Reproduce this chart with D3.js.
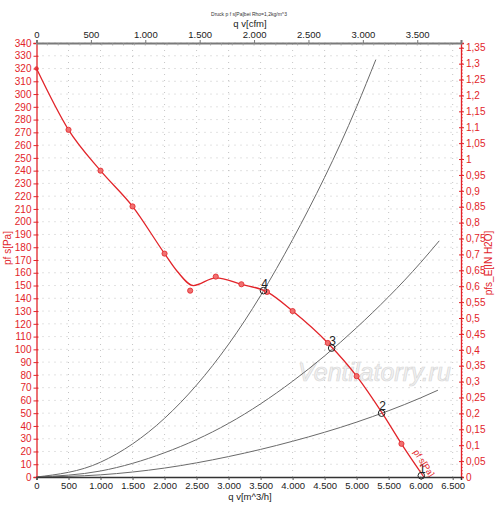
<!DOCTYPE html>
<meta charset="utf-8">
<script src="https://cdn.jsdelivr.net/npm/d3@7"></script>
<style>
	body{margin:0;background:#fff;font-family:"Liberation Sans",Arial,sans-serif;}
	text{font-family:"Liberation Sans",Arial,sans-serif;}
</style>
<div id="chart"></div>
<script>
// fan curve pf_s [Pa] over qv [m^3/h]
var curveQ = [0,500,1000,1500,2000,2200,2450,2800,3200,3600,4000,4550,5000,5400,5700,6050]
var curveP = [320,272,240,212,175,161,150,156,151,145,130,105,79,50,26,0]
// measured points
var dotQ = [0,500,1000,1500,2000,2400,2800,3200,3600,4000,4550,5000,5700]
var dotP = [320,272,240,212,175,146,157,151,145,130,105,79,26]
// system curves
var sysQ4 = [0,1000,2000,3000,4000,5000,5300]
var sysP4 = [0,11.6,46,104,186,290,327]
var sysQ3 = [0,1000,2000,3000,4000,5000,6000,6290]
var sysP3 = [0,4.7,19,42,75,117,168,185]
var sysQ2 = [0,1000,2000,3000,4000,5000,6000,6270]
var sysP2 = [0,1.7,7,16,28,43,62,68]
// operating points
var opLabels = ["1","2","3","4"]
var opQ = [6010,5390,4610,3545]
var opP = [1,50,101,146]
// ticks
var qTicks = d3.range(0,6501,500)
var cfmTicks = d3.range(0,3501,500)
var paTicks = d3.range(0,341,10)
var inTicks = d3.range(0,1.36,0.05)

var red = "#e2242a"
var W = 500, H = 510
var svg = d3.select("#chart").append("svg").attr("width",W).attr("height",H)

var x = d3.scaleLinear().domain([0,6630]).range([36.5,461])
var xc = d3.scaleLinear().domain([0,6630/1.69901]).range([36.5,461])
var y = d3.scaleLinear().domain([0,340]).range([477,43])
var yr = d3.scaleLinear().domain([0,340/249.089]).range([477,43])

var loc = d3.formatLocale({decimal:",",thousands:".",grouping:[3],currency:["",""]})
var fInt = loc.format(",")
var fDec = function(v){ return loc.format(".2~f")(v) }

// grid
svg.append("g").selectAll("line").data(paTicks.slice(1)).enter().append("line")
	.attr("x1",x(0)).attr("x2",x.range()[1]).attr("y1",function(d){return y(d)}).attr("y2",function(d){return y(d)})
	.attr("stroke","#b8b8b8").attr("stroke-width",0.8).attr("stroke-dasharray","1,5")
svg.append("g").selectAll("line").data(qTicks.slice(1)).enter().append("line")
	.attr("x1",function(d){return x(d)}).attr("x2",function(d){return x(d)}).attr("y1",y(0)).attr("y2",y(340))
	.attr("stroke","#b8b8b8").attr("stroke-width",0.8).attr("stroke-dasharray","1,5")

// watermark
svg.append("text").attr("x",298).attr("y",381).text("Ventilatorry.ru")
	.attr("font-size",25).attr("font-style","italic").attr("fill","#f2f2f2")
	.attr("stroke","#d8d8d8").attr("stroke-width",0.7)

// system curves
var line = d3.line().curve(d3.curveMonotoneX).x(function(d){return x(d[0])}).y(function(d){return y(d[1])})
;[[sysQ4,sysP4],[sysQ3,sysP3],[sysQ2,sysP2]].forEach(function(s){
	svg.append("path").datum(d3.zip(s[0],s[1]))
		.attr("fill","none").attr("stroke","#6a6a6a").attr("stroke-width",1).attr("d",line)
})

// fan curve
svg.append("path").datum(d3.zip(curveQ,curveP))
	.attr("fill","none").attr("stroke",red).attr("stroke-width",1.3).attr("d",line)
svg.append("g").selectAll("circle").data(d3.zip(dotQ,dotP)).enter().append("circle")
	.attr("cx",function(d){return x(d[0])}).attr("cy",function(d){return y(d[1])})
	.attr("r",function(d){return d[0]==0 ? 1.8 : 2.6})
	.attr("fill","#f07070").attr("stroke",red).attr("stroke-width",0.8)

// operating points
var ops = svg.append("g").selectAll("g").data(d3.range(opQ.length)).enter().append("g")
ops.append("circle").attr("cx",function(i){return x(opQ[i])}).attr("cy",function(i){return y(opP[i])}).attr("r",3.3)
	.attr("fill","none").attr("stroke","#222").attr("stroke-width",1)
ops.append("text").attr("x",function(i){return x(opQ[i])+1}).attr("y",function(i){return y(opP[i])-3})
	.attr("text-anchor","middle").attr("font-size",12).attr("fill","#222").text(function(i){return opLabels[i]})

// curve label
svg.append("text").attr("transform","translate(413,452) rotate(57)")
	.attr("font-size",9).attr("fill",red).text("pf s[Pa]")

// left axis
var gl = svg.append("g").attr("transform","translate("+x(0)+",0)")
	.call(d3.axisLeft(y).tickValues(paTicks).tickSize(3).tickPadding(2))
gl.selectAll("line").attr("x1",2).attr("stroke",red)
gl.select(".domain").attr("stroke",red).attr("stroke-width",1.3)
gl.selectAll("text").attr("fill",red).attr("font-size",10)

// right axis
var gr = svg.append("g").attr("transform","translate("+x.range()[1]+",0)")
	.call(d3.axisRight(yr).tickValues(inTicks).tickSize(3).tickPadding(2).tickFormat(fDec))
gr.selectAll("line").attr("x1",-2).attr("stroke",red)
gr.select(".domain").attr("stroke",red).attr("stroke-width",1.3)
gr.selectAll("text").attr("fill",red).attr("font-size",10)
svg.append("g").attr("transform","translate("+x.range()[1]+",0)").selectAll("line")
	.data(d3.range(0,1.36,0.01)).enter().append("line")
	.attr("x1",0).attr("x2",2).attr("y1",function(d){return yr(d)}).attr("y2",function(d){return yr(d)})
	.attr("stroke",red).attr("stroke-width",0.6)

// bottom axis
var gb = svg.append("g").attr("transform","translate(0,"+y(0)+")")
	.call(d3.axisBottom(x).tickValues(qTicks).tickSize(3).tickPadding(2).tickFormat(fInt))
gb.select(".domain").attr("stroke","#333").attr("stroke-width",1.5)
gb.selectAll("line").attr("stroke","#555")
gb.selectAll("text").attr("fill","#222").attr("font-size",9.5)

// top axis
var gt = svg.append("g").attr("transform","translate(0,"+y(340)+")")
	.call(d3.axisTop(xc).tickValues(cfmTicks).tickSize(3).tickPadding(2).tickFormat(fInt))
gt.select(".domain").attr("stroke","#7a7a7a").attr("stroke-width",2)
gt.selectAll("line").attr("stroke","#777")
gt.selectAll("text").attr("fill","#222").attr("font-size",9.5)
svg.append("g").attr("transform","translate(0,"+y(340)+")").selectAll("line")
	.data(d3.range(0,3801,100)).enter().append("line")
	.attr("x1",function(d){return xc(d)}).attr("x2",function(d){return xc(d)}).attr("y1",0).attr("y2",2.5)
	.attr("stroke","#999").attr("stroke-width",0.7)

// titles
svg.append("text").attr("x",249).attr("y",16).attr("text-anchor","middle").attr("font-size",5)
	.attr("fill","#333").text("Druck p f s[Pa]bei Rho=1,2kg/m^3")
svg.append("text").attr("x",250).attr("y",27).attr("text-anchor","middle").attr("font-size",9.5)
	.attr("fill","#222").text("q v[cfm]")
svg.append("text").attr("x",250).attr("y",500).attr("text-anchor","middle").attr("font-size",9.5)
	.attr("fill","#222").text("q v[m^3/h]")
svg.append("text").attr("transform","translate(11,248) rotate(-90)").attr("text-anchor","middle")
	.attr("font-size",10).attr("fill",red).text("pf s[Pa]")
svg.append("text").attr("transform","translate(492,263) rotate(-90)").attr("text-anchor","middle")
	.attr("font-size",10).attr("fill",red).text("pfs_E[IN H2O]")
</script>
